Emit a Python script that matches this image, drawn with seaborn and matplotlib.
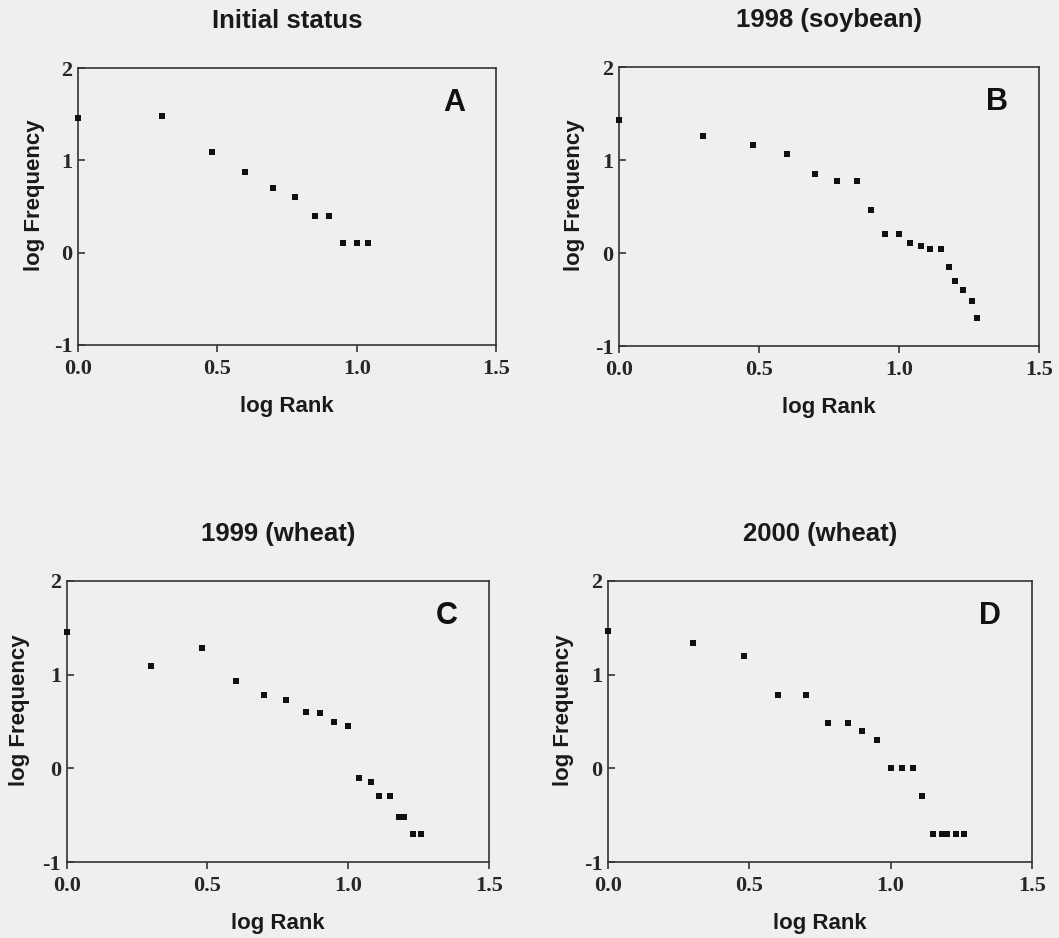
import matplotlib
matplotlib.use("Agg")
import matplotlib.pyplot as plt
import seaborn as sns
import pandas as pd

sns.set_theme(style="white")
plt.rcParams['font.family'] = ['Liberation Sans', 'DejaVu Sans']

# ---- data ----
titles = ["Initial status", "1998 (soybean)", "1999 (wheat)", "2000 (wheat)"]
letters = ["A", "B", "C", "D"]

rank_a = [0.00, 0.30, 0.48, 0.60, 0.70, 0.78, 0.85, 0.90, 0.95, 1.00, 1.04]
freq_a = [1.46, 1.48, 1.09, 0.87, 0.70, 0.60, 0.40, 0.40, 0.10, 0.10, 0.10]

rank_b = [0.00, 0.30, 0.48, 0.60, 0.70, 0.78, 0.85, 0.90, 0.95, 1.00, 1.04,
          1.08, 1.11, 1.15, 1.18, 1.20, 1.23, 1.26, 1.28]
freq_b = [1.43, 1.26, 1.16, 1.07, 0.85, 0.78, 0.78, 0.46, 0.20, 0.20, 0.11,
          0.08, 0.04, 0.04, -0.15, -0.30, -0.40, -0.52, -0.70]

rank_c = [0.00, 0.30, 0.48, 0.60, 0.70, 0.78, 0.85, 0.90, 0.95, 1.00, 1.04,
          1.08, 1.11, 1.15, 1.18, 1.20, 1.23, 1.26]
freq_c = [1.46, 1.09, 1.29, 0.93, 0.78, 0.73, 0.60, 0.59, 0.49, 0.45, -0.10,
          -0.15, -0.30, -0.30, -0.52, -0.52, -0.70, -0.70]

rank_d = [0.00, 0.30, 0.48, 0.60, 0.70, 0.78, 0.85, 0.90, 0.95, 1.00, 1.04,
          1.08, 1.11, 1.15, 1.18, 1.20, 1.23, 1.26]
freq_d = [1.47, 1.34, 1.20, 0.78, 0.78, 0.48, 0.48, 0.40, 0.30, 0.00, 0.00,
          0.00, -0.30, -0.70, -0.70, -0.70, -0.70, -0.70]

xticks = [0.0, 0.5, 1.0, 1.5]
xticklabels = ["0.0", "0.5", "1.0", "1.5"]
yticks = [-1, 0, 1, 2]
yticklabels = ["-1", "0", "1", "2"]

series = [(rank_a, freq_a), (rank_b, freq_b), (rank_c, freq_c), (rank_d, freq_d)]

bg = "#efefed"
fig = plt.figure(figsize=(10.59, 9.38), dpi=100, facecolor=bg)

positions = [
    [0.0737, 0.6322, 0.3947, 0.2953],
    [0.5845, 0.6311, 0.3966, 0.2974],
    [0.0630, 0.0810, 0.3985, 0.2996],
    [0.5741, 0.0810, 0.4004, 0.2996],
]
ylabel_x = [-0.079, -0.081, -0.088, -0.079]

for pos, lx, (xs, ys), title, letter in zip(positions, ylabel_x, series,
                                             titles, letters):
    ax = fig.add_axes(pos)
    ax.set_facecolor(bg)
    df = pd.DataFrame({"log Rank": xs, "log Frequency": ys})
    sns.scatterplot(data=df, x="log Rank", y="log Frequency", marker="s",
                    s=20, color="#111111", edgecolor="#111111", linewidth=0,
                    ax=ax, clip_on=False, zorder=3)
    ax.set_xlim(0, 1.5)
    ax.set_ylim(-1, 2)
    ax.set_xticks(xticks)
    ax.set_xticklabels(xticklabels, family="Liberation Serif", fontweight="bold",
                       fontsize=16)
    ax.set_yticks(yticks)
    ax.set_yticklabels(yticklabels, family="Liberation Serif", fontweight="bold",
                       fontsize=16)
    ax.tick_params(axis="x", direction="out", length=5, width=1.2,
                   color="#333333", pad=5, bottom=True)
    ax.tick_params(axis="y", direction="in", length=5, width=1.2,
                   color="#333333", pad=4, left=True)
    for sp in ax.spines.values():
        sp.set_visible(True)
        sp.set_linewidth(1.2)
        sp.set_color("#333333")
    ax.set_xlabel("log Rank", fontsize=16, fontweight="bold", labelpad=12,
                  color="#1a1a1a")
    ax.set_ylabel("log Frequency", fontsize=16, fontweight="bold",
                  color="#1a1a1a")
    ax.yaxis.set_label_coords(lx, 0.54)
    ax.set_title(title, fontsize=18.5, fontweight="bold", pad=29, color="#1a1a1a")
    ax.text(0.90, 0.875, letter, transform=ax.transAxes, fontsize=22,
            fontweight="bold", ha="center", va="center", color="#111111")

fig.savefig("out.png", dpi=100, facecolor=bg)
